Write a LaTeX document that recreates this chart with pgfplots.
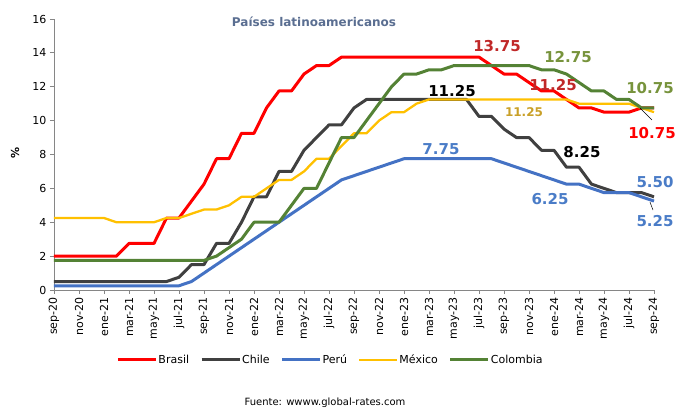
\documentclass[border=0pt]{standalone}
\usepackage{pgfplots}
\pgfplotsset{compat=1.18}
\usepackage{pgfplotstable}
\usepackage{fontspec}
\setmainfont{DejaVu Sans}

\definecolor{cBra}{RGB}{255,0,0}
\definecolor{cChi}{RGB}{64,64,64}
\definecolor{cPer}{RGB}{68,114,196}
\definecolor{cMex}{RGB}{255,192,0}
\definecolor{cCol}{RGB}{84,130,53}
\definecolor{axisgray}{RGB}{134,134,134}
\definecolor{titleblue}{RGB}{90,110,145}
\definecolor{lblred}{RGB}{192,40,40}
\definecolor{lblgreen}{RGB}{119,147,60}
\definecolor{lblgold}{RGB}{201,160,40}
\definecolor{lblblue}{RGB}{74,124,199}

% month index: 0 = sep-20 ... 48 = sep-24
\pgfplotstableread{
i  bra   chi   per   mex   col
0  2.00  0.50  0.25  4.25  1.75
1  2.00  0.50  0.25  4.25  1.75
2  2.00  0.50  0.25  4.25  1.75
3  2.00  0.50  0.25  4.25  1.75
4  2.00  0.50  0.25  4.25  1.75
5  2.00  0.50  0.25  4.00  1.75
6  2.75  0.50  0.25  4.00  1.75
7  2.75  0.50  0.25  4.00  1.75
8  2.75  0.50  0.25  4.00  1.75
9  4.25  0.50  0.25  4.25  1.75
10 4.25  0.75  0.25  4.25  1.75
11 5.25  1.50  0.50  4.50  1.75
12 6.25  1.50  1.00  4.75  1.75
13 7.75  2.75  1.50  4.75  2.00
14 7.75  2.75  2.00  5.00  2.50
15 9.25  4.00  2.50  5.50  3.00
16 9.25  5.50  3.00  5.50  4.00
17 10.75 5.50  3.50  6.00  4.00
18 11.75 7.00  4.00  6.50  4.00
19 11.75 7.00  4.50  6.50  5.00
20 12.75 8.25  5.00  7.00  6.00
21 13.25 9.00  5.50  7.75  6.00
22 13.25 9.75  6.00  7.75  7.50
23 13.75 9.75  6.50  8.50  9.00
24 13.75 10.75 6.75  9.25  9.00
25 13.75 11.25 7.00  9.25  10.00
26 13.75 11.25 7.25  10.00 11.00
27 13.75 11.25 7.50  10.50 12.00
28 13.75 11.25 7.75  10.50 12.75
29 13.75 11.25 7.75  11.00 12.75
30 13.75 11.25 7.75  11.25 13.00
31 13.75 11.25 7.75  11.25 13.00
32 13.75 11.25 7.75  11.25 13.25
33 13.75 11.25 7.75  11.25 13.25
34 13.75 10.25 7.75  11.25 13.25
35 13.25 10.25 7.75  11.25 13.25
36 12.75 9.50  7.50  11.25 13.25
37 12.75 9.00  7.25  11.25 13.25
38 12.25 9.00  7.00  11.25 13.25
39 11.75 8.25  6.75  11.25 13.00
40 11.75 8.25  6.50  11.25 13.00
41 11.25 7.25  6.25  11.25 12.75
42 10.75 7.25  6.25  11.00 12.25
43 10.75 6.25  6.00  11.00 11.75
44 10.50 6.00  5.75  11.00 11.75
45 10.50 5.75  5.75  11.00 11.25
46 10.50 5.75  5.75  11.00 11.25
47 10.75 5.75  5.50  10.75 10.75
48 10.75 5.50  5.25  10.50 10.75
}\rates

\begin{document}
\begin{tikzpicture}[lbl/.style={font=\bfseries\fontsize{15}{17}\selectfont, inner sep=0pt}]
\begin{axis}[
  scale only axis, width=600pt, height=271pt,
  xmin=0, xmax=48, ymin=0, ymax=16,
  axis x line*=bottom, axis y line*=left,
  axis line style={axisgray, line width=0.8pt},
  tick style={axisgray, line width=0.8pt},
  tick align=outside, major tick length=4pt,
  ytick={0,2,...,16},
  xtick={0,2,...,48},
  xticklabels={sep-20,nov-20,ene-21,mar-21,may-21,jul-21,sep-21,nov-21,ene-22,mar-22,may-22,jul-22,sep-22,nov-22,ene-23,mar-23,may-23,jul-23,sep-23,nov-23,ene-24,mar-24,may-24,jul-24,sep-24},
  x tick label style={rotate=90, anchor=east, font=\fontsize{11}{13}\selectfont},
  y tick label style={font=\fontsize{11}{13}\selectfont},
  /pgf/number format/assume math mode=true,
  ylabel={\%},
  ylabel style={at={(axis description cs:-0.065,0.505)}, anchor=center, font=\bfseries\fontsize{11}{13}\selectfont},
  clip=false,
  legend columns=5,
  legend style={at={(0.46,-0.258)}, anchor=center, draw=none, fill=none,
    font=\fontsize{11}{13}\selectfont,
    /tikz/every even column/.append style={column sep=10pt},
    nodes={inner xsep=1pt}},
  legend image code/.code={\draw[#1] (0pt,0pt) -- (38pt,0pt);},
  every axis plot/.append style={line join=round},
]
\addplot[cBra, line width=3pt] table[x=i, y=bra] {\rates};
\addlegendentry{Brasil}
\addplot[cChi, line width=3pt] table[x=i, y=chi] {\rates};
\addlegendentry{Chile}
\addplot[cPer, line width=3pt] table[x=i, y=per] {\rates};
\addlegendentry{Perú}
\addplot[cMex, line width=2.3pt] table[x=i, y=mex] {\rates};
\addlegendentry{México}
\addplot[cCol, line width=3pt] table[x=i, y=col] {\rates};
\addlegendentry{Colombia}

\node[font=\bfseries\fontsize{12}{14}\selectfont, text=titleblue] at (axis cs:20.8,15.82) {Países latinoamericanos};

\node[lbl, text=lblred] at (axis cs:35.44,14.40) {13.75};
\node[lbl, text=lblgreen] at (axis cs:41.12,13.75) {12.75};
\node[lbl, text=lblred] at (axis cs:39.92,12.10) {11.25};
\node[lbl, text=lblgreen] at (axis cs:47.68,11.92) {10.75};
\node[lbl, text=black] at (axis cs:31.84,11.75) {11.25};
\node[font=\bfseries\fontsize{12}{14}\selectfont, inner sep=0pt, text=lblgold] at (axis cs:37.6,10.51) {11.25};
\node[lbl, text=cBra] at (axis cs:47.84,9.27) {10.75};
\node[lbl, text=lblblue] at (axis cs:30.96,8.32) {7.75};
\node[lbl, text=black] at (axis cs:42.24,8.15) {8.25};
\node[lbl, text=lblblue] at (axis cs:48.08,6.38) {5.50};
\node[lbl, text=lblblue] at (axis cs:39.68,5.37) {6.25};
\node[lbl, text=lblblue] at (axis cs:48.08,4.07) {5.25};

\draw[black, line width=0.5pt] (axis cs:46.88,10.74) -- (axis cs:47.84,10.04);
\draw[black, line width=0.5pt] (axis cs:47.68,5.19) -- (axis cs:47.92,4.72);

\node[font=\fontsize{10}{12}\selectfont] at (axis cs:21.68,-6.67) {Fuente: wwww.global-rates.com};
\end{axis}
\pgfresetboundingbox
\path[use as bounding box] ([xshift=-54pt,yshift=-119pt]current axis.south west) rectangle ([xshift=621pt,yshift=290pt]current axis.south west);
\end{tikzpicture}
\end{document}
